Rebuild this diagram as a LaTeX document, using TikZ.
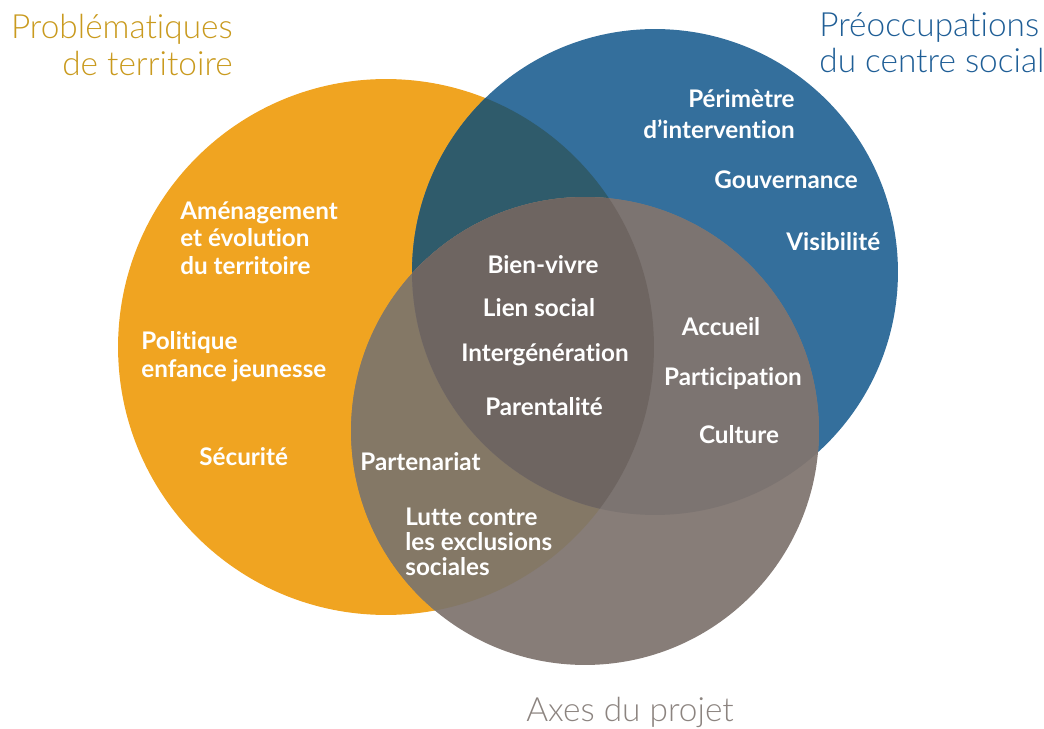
\documentclass[tikz,border=0pt]{standalone}
\usepackage{fontspec}
\setmainfont{Lato}[Ligatures=NoCommon]
\newfontfamily\lightfont{Lato Light}[Ligatures=NoCommon]

\definecolor{orangeC}{HTML}{F0A421}
\definecolor{blueC}{HTML}{346F9C}
\definecolor{tealC}{HTML}{2F5B6B}
\definecolor{grayC}{HTML}{877D78}
\definecolor{grayorange}{HTML}{847866}
\definecolor{grayblue}{HTML}{7C7471}
\definecolor{grayall}{HTML}{6E6561}
\definecolor{goldT}{HTML}{C99A1E}
\definecolor{blueT}{HTML}{1F5E96}
\definecolor{grayT}{HTML}{8C8480}

\begin{document}
\begin{tikzpicture}[x=0.02cm,y=-0.02cm,
    lbl/.style={text=white,font=\bfseries\fontsize{13.8}{15.6}\selectfont,align=left,inner sep=0pt},
    ttl/.style={font=\lightfont\fontsize{19}{20.5}\selectfont,inner sep=0pt}]
    \useasboundingbox (0,0) rectangle (1044,729);

    \coordinate (O) at (386,347);
    \coordinate (B) at (655,272);
    \coordinate (G) at (585,431);

    % circles and overlaps
    \fill[orangeC] (O) circle[radius=5.36cm];
    \fill[blueC] (B) circle[radius=4.86cm];
    \begin{scope}
      \clip (O) circle[radius=5.36cm];
      \fill[tealC] (B) circle[radius=4.86cm];
    \end{scope}
    \fill[grayC] (G) circle[radius=4.68cm];
    \begin{scope}
      \clip (G) circle[radius=4.68cm];
      \fill[grayorange] (O) circle[radius=5.36cm];
      \fill[grayblue] (B) circle[radius=4.86cm];
      \clip (O) circle[radius=5.36cm];
      \fill[grayall] (B) circle[radius=4.86cm];
    \end{scope}

    % titles
    \node[ttl,text=goldT,anchor=east,align=right] (titreO) at (233,45) {Problématiques\\de territoire};
    \node[ttl,text=blueT,anchor=west,align=left] (titreB) at (819,43) {Préoccupations\\du centre social};
    \node[ttl,text=grayT] (titreG) at (630,712) {Axes du projet};

    % labels
    \node[lbl,anchor=west] (amenag) at (180,238) {Aménagement\\et évolution\\du territoire};
    \node[lbl,anchor=west] (politique) at (141,357) {Politique\\[0.5pt]enfance jeunesse};
    \node[lbl,anchor=east,align=right] (perimetre) at (795,114) {Périmètre\\[2.3pt]d’intervention};
    \node[lbl,anchor=west] (securite) at (199,457) {Sécurité};
    \node[lbl,anchor=west] (gouv) at (714,180) {Gouvernance};
    \node[lbl,anchor=west] (visib) at (786,242) {Visibilité};
    \node[lbl] (bien) at (543,265) {Bien-vivre};
    \node[lbl] (lien) at (539,308) {Lien social};
    \node[lbl] (interg) at (545,355) {Intergénération};
    \node[lbl] (parent) at (544,407) {Parentalité};
    \node[lbl] (accueil) at (721,327) {Accueil};
    \node[lbl] (partic) at (733,379) {Participation};
    \node[lbl] (culture) at (739,435) {Culture};
    \node[lbl,anchor=west] (parten) at (360,462) {Partenariat};
    \node[lbl,anchor=west] (lutte) at (405,542) {Lutte contre\\[-1.4pt]les exclusions\\[-1.4pt]sociales};
\end{tikzpicture}
\end{document}
